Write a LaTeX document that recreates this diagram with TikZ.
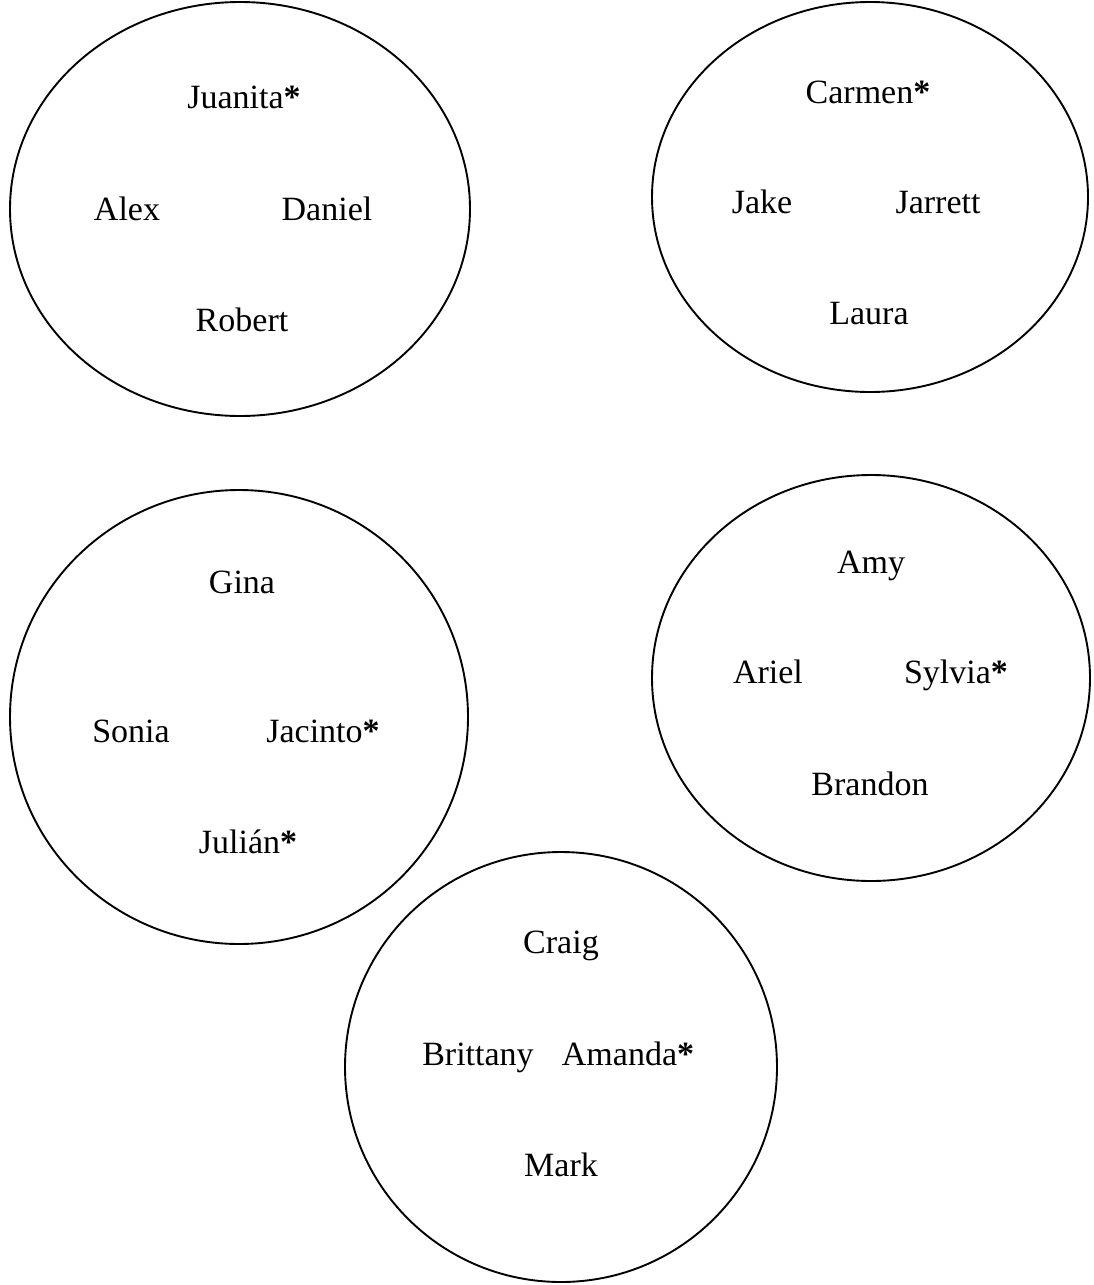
\documentclass[tikz,border=0pt]{standalone}
\usepackage{fontspec}
\setmainfont{Liberation Serif}
\newcommand\mystar{\textbf{*}}
\begin{document}
\begin{tikzpicture}[x=1pt,y=-1pt,
  grp/.style={draw=black,line width=1.9pt},
  nm/.style={anchor=base,inner sep=0pt,font=\fontsize{34}{40}\selectfont}]
\useasboundingbox (0,0) rectangle (1093,1285);
% groups
\draw[grp] (240,209) ellipse [x radius=230,y radius=207];
\draw[grp] (870,197) ellipse [x radius=218,y radius=195];
\draw[grp] (239,717) ellipse [x radius=229,y radius=227];
\draw[grp] (871,678) ellipse [x radius=219,y radius=203];
\draw[grp] (561,1067) ellipse [x radius=216,y radius=215];
% group 1
\node[nm] (juanita) at (244,108) {Juanita\mystar};
\node[nm] (alex) at (127,220) {Alex};
\node[nm] (daniel) at (327,220) {Daniel};
\node[nm] (robert) at (242,331) {Robert};
% group 2
\node[nm] (carmen) at (868,103) {Carmen\mystar};
\node[nm] (jake) at (762,213) {Jake};
\node[nm] (jarrett) at (938,213) {Jarrett};
\node[nm] (laura) at (869,324) {Laura};
% group 3
\node[nm] (gina) at (242,593) {Gina};
\node[nm] (sonia) at (131,742) {Sonia};
\node[nm] (jacinto) at (323,742) {Jacinto\mystar};
\node[nm] (julian) at (248,853) {Julián\mystar};
% group 4
\node[nm] (amy) at (871,573) {Amy};
\node[nm] (ariel) at (768,683) {Ariel};
\node[nm] (sylvia) at (956,683) {Sylvia\mystar};
\node[nm] (brandon) at (870,795) {Brandon};
% group 5
\node[nm] (craig) at (561,953) {Craig};
\node[nm] (brittany) at (478,1065) {Brittany};
\node[nm] (amanda) at (628,1065) {Amanda\mystar};
\node[nm] (mark) at (561,1176) {Mark};
\end{tikzpicture}
\end{document}
